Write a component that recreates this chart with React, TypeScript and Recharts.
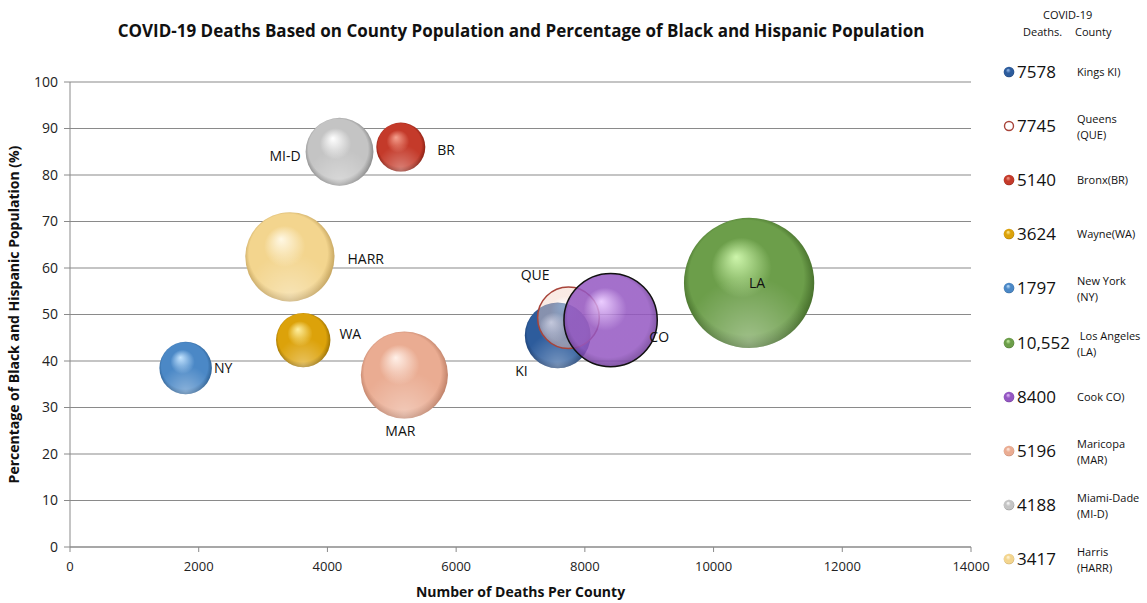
import React from 'react'
import { ScatterChart, Scatter, XAxis, YAxis, ZAxis, CartesianGrid } from 'recharts'

// county codes in legend / drawing order
const codes = ['KI', 'QUE', 'BR', 'WA', 'NY', 'LA', 'CO', 'MAR', 'MI-D', 'HARR']
const countyNames = [
  ['Kings KI)'],
  ['Queens', '(QUE)'],
  ['Bronx(BR)'],
  ['Wayne(WA)'],
  ['New York', '(NY)'],
  [' Los Angeles', '(LA)'],
  ['Cook CO)'],
  ['Maricopa', '(MAR)'],
  ['Miami-Dade', '(MI-D)'],
  ['Harris', '(HARR)'],
]
const deaths = [7578, 7745, 5140, 3624, 1797, 10552, 8400, 5196, 4188, 3417]
const blackHispanicPct = [45.5, 49.3, 86, 44.5, 38.5, 56.8, 48.8, 37, 85, 62.4]
// county population, millions (bubble size)
const populationM = [2.56, 2.25, 1.42, 1.75, 1.63, 10.04, 5.15, 4.49, 2.72, 4.71]

const xTicks = [0, 2000, 4000, 6000, 8000, 10000, 12000, 14000]
const yTicks = [0, 10, 20, 30, 40, 50, 60, 70, 80, 90, 100]

const rows = codes.map((code, i) => ({
  code,
  deaths: deaths[i],
  pct: blackHispanicPct[i],
  pop: populationM[i],
}))

type Sphere = { base: string; light: string; dark: string; opacity?: number; stroke?: string }
const spheres: Record<string, Sphere> = {
  KI: { base: '#2d5c9c', light: '#9cc0f0', dark: '#15325e' },
  QUE: { base: '#f4d2c4', light: '#ffffff', dark: '#e0a894', opacity: 0.45, stroke: '#a8443a' },
  BR: { base: '#c43a2a', light: '#f5a08e', dark: '#6e1409' },
  WA: { base: '#dca20a', light: '#fff0a0', dark: '#7d5a00' },
  NY: { base: '#4b88c6', light: '#c4e4ff', dark: '#22507e' },
  LA: { base: '#6c9e4a', light: '#cdf5ab', dark: '#34581d' },
  CO: { base: '#9457c2', light: '#e8c4ff', dark: '#5a2c80', opacity: 0.85, stroke: '#111111' },
  MAR: { base: '#eaac92', light: '#fff0e8', dark: '#a86a52' },
  'MI-D': { base: '#c4c4c4', light: '#ffffff', dark: '#6c6c6c' },
  HARR: { base: '#f3d58e', light: '#fff8e4', dark: '#ae8c48' },
}

// data label placement around each bubble (multiples of radius + px)
const labelPlace: Record<string, { ax: number; gx: number; ay: number; gy: number; anchor: string }> = {
  KI: { ax: -1.1, gx: 0, ay: 1, gy: 2, anchor: 'middle' },
  QUE: { ax: -1.08, gx: 0, ay: -1, gy: -12, anchor: 'middle' },
  BR: { ax: 1, gx: 12, ay: 0, gy: 2, anchor: 'start' },
  WA: { ax: 1, gx: 9, ay: 0, gy: -7, anchor: 'start' },
  NY: { ax: 1, gx: 2, ay: 0, gy: 0, anchor: 'start' },
  LA: { ax: 0, gx: 8, ay: 0, gy: 0, anchor: 'middle' },
  CO: { ax: 0.83, gx: 0, ay: 0.36, gy: 0, anchor: 'start' },
  MAR: { ax: 0, gx: -4, ay: 1, gy: 12, anchor: 'middle' },
  'MI-D': { ax: -1, gx: -5, ay: 0, gy: 4, anchor: 'end' },
  HARR: { ax: 1, gx: 13, ay: 0, gy: 2, anchor: 'start' },
}

const FONT = '"Open Sans", "Noto Sans", sans-serif'

function SphereGradient({ id, s }: { id: string; s: Sphere }) {
  return (
    <defs>
      <radialGradient id={id} cx="0.5" cy="0.5" r="0.55" fx="0.4" fy="0.3">
        <stop offset="0" stopColor={s.light} />
        <stop offset="0.42" stopColor={s.base} />
        <stop offset="0.8" stopColor={s.base} />
        <stop offset="1" stopColor={s.dark} />
      </radialGradient>
      <radialGradient id={id + '-rim'} cx="0.5" cy="0.95" r="0.5">
        <stop offset="0" stopColor="#ffffff" stopOpacity="0.35" />
        <stop offset="1" stopColor="#ffffff" stopOpacity="0" />
      </radialGradient>
    </defs>
  )
}

function Bubble(props: any) {
  const { cx, cy, payload } = props
  const r = props.width ? props.width / 2 : Math.sqrt(props.size / Math.PI)
  const code: string = payload.code
  const s = spheres[code]
  const id = 'sph-' + code.replace(/[^A-Za-z]/g, '')
  const p = labelPlace[code]
  return (
    <g>
      <SphereGradient id={id} s={s} />
      <circle cx={cx} cy={cy} r={r} fill={`url(#${id})`} fillOpacity={s.opacity ?? 1}
        stroke={s.stroke ?? 'none'} strokeWidth={s.stroke ? 1.5 : 0} />
      {!s.stroke && <circle cx={cx} cy={cy} r={r} fill={`url(#${id}-rim)`} />}
      <text x={cx + p.ax * r + p.gx} y={cy + p.ay * r + p.gy} textAnchor={p.anchor}
        dominantBaseline="central" fontFamily={FONT} fontSize={14} fill="#111">
        {code}
      </text>
    </g>
  )
}

function LegendDot({ code }: { code: string }) {
  const s = spheres[code]
  const id = 'lg-' + code.replace(/[^A-Za-z]/g, '')
  const hollow = code === 'QUE'
  return (
    <svg width={12} height={12} style={{ position: 'absolute', left: 0, top: 6 }}>
      <SphereGradient id={id} s={s} />
      {hollow
        ? <circle cx={6} cy={6} r={4.5} fill="#fff" stroke="#a8443a" strokeWidth={1.4} />
        : <circle cx={6} cy={6} r={5.3} fill={`url(#${id})`} />}
    </svg>
  )
}

const fmt = (d: number) => (d >= 10000 ? d.toLocaleString('en-US') : String(d))

function SideLegend() {
  return (
    <div style={{ position: 'absolute', left: 1003, top: 0, width: 144, height: 603, fontFamily: FONT, color: '#111' }}>
      <div style={{ position: 'absolute', left: 40, top: 7, fontSize: 11 }}>COVID-19</div>
      <div style={{ position: 'absolute', left: 20, top: 24, fontSize: 11 }}>Deaths.</div>
      <div style={{ position: 'absolute', left: 72, top: 24, fontSize: 11 }}>County</div>
      {codes.map((code, i) => {
        const lines = countyNames[i]
        return (
          <div key={code} style={{ position: 'absolute', left: 0, top: 72 + i * 54.1 - 12, width: 144, height: 24 }}>
            <LegendDot code={code} />
            <div style={{ position: 'absolute', left: 14, top: 0, fontSize: 17, lineHeight: '24px', whiteSpace: 'nowrap' }}>
              {fmt(deaths[i])}
            </div>
            <div style={{ position: 'absolute', left: 74, top: lines.length > 1 ? -3 : 4, fontSize: 11, lineHeight: '16px', whiteSpace: 'pre' }}>
              {lines.map((ln) => <div key={ln}>{ln}</div>)}
            </div>
          </div>
        )
      })}
    </div>
  )
}

export default function App() {
  return (
    <div style={{ position: 'absolute', left: 0, top: 0, width: 1147, height: 603, background: '#fff' }}>
      <div style={{ position: 'absolute', left: 0, top: 19, width: 1042, textAlign: 'center', fontFamily: FONT, fontWeight: 700, fontSize: 17, color: '#111' }}>
        COVID-19 Deaths Based on County Population and Percentage of Black and Hispanic Population
      </div>
      <ScatterChart width={1147} height={603} margin={{ top: 82, right: 176, bottom: 0, left: 0 }}>
        <CartesianGrid vertical={false} stroke="#8a8a8a" strokeWidth={1.2} />
        <XAxis type="number" dataKey="deaths" domain={[0, 14000]} ticks={xTicks} height={56}
          tick={{ fill: '#222', fontSize: 13, fontFamily: FONT }} tickSize={5} tickMargin={10}
          stroke="#8a8a8a"
          label={{ value: 'Number of Deaths Per County', position: 'insideBottom', offset: 6, style: { fontFamily: FONT, fontWeight: 700, fontSize: 14, fill: '#111' } }} />
        <YAxis type="number" dataKey="pct" domain={[0, 100]} ticks={yTicks} width={70}
          tick={{ fill: '#222', fontSize: 14, fontFamily: FONT }} tickSize={6} tickMargin={6}
          stroke="#8a8a8a"
          label={{ value: 'Percentage of Black and Hispanic Population (%)', angle: -90, position: 'insideLeft', offset: 14, style: { textAnchor: 'middle', fontFamily: FONT, fontWeight: 700, fontSize: 14, fill: '#111' } }} />
        <ZAxis type="number" dataKey="pop" domain={[0, 10]} range={[0, Math.PI * 20.6 * 20.6 * 10]} />
        <Scatter data={rows} shape={Bubble} isAnimationActive={false} />
      </ScatterChart>
      <SideLegend />
    </div>
  )
}
